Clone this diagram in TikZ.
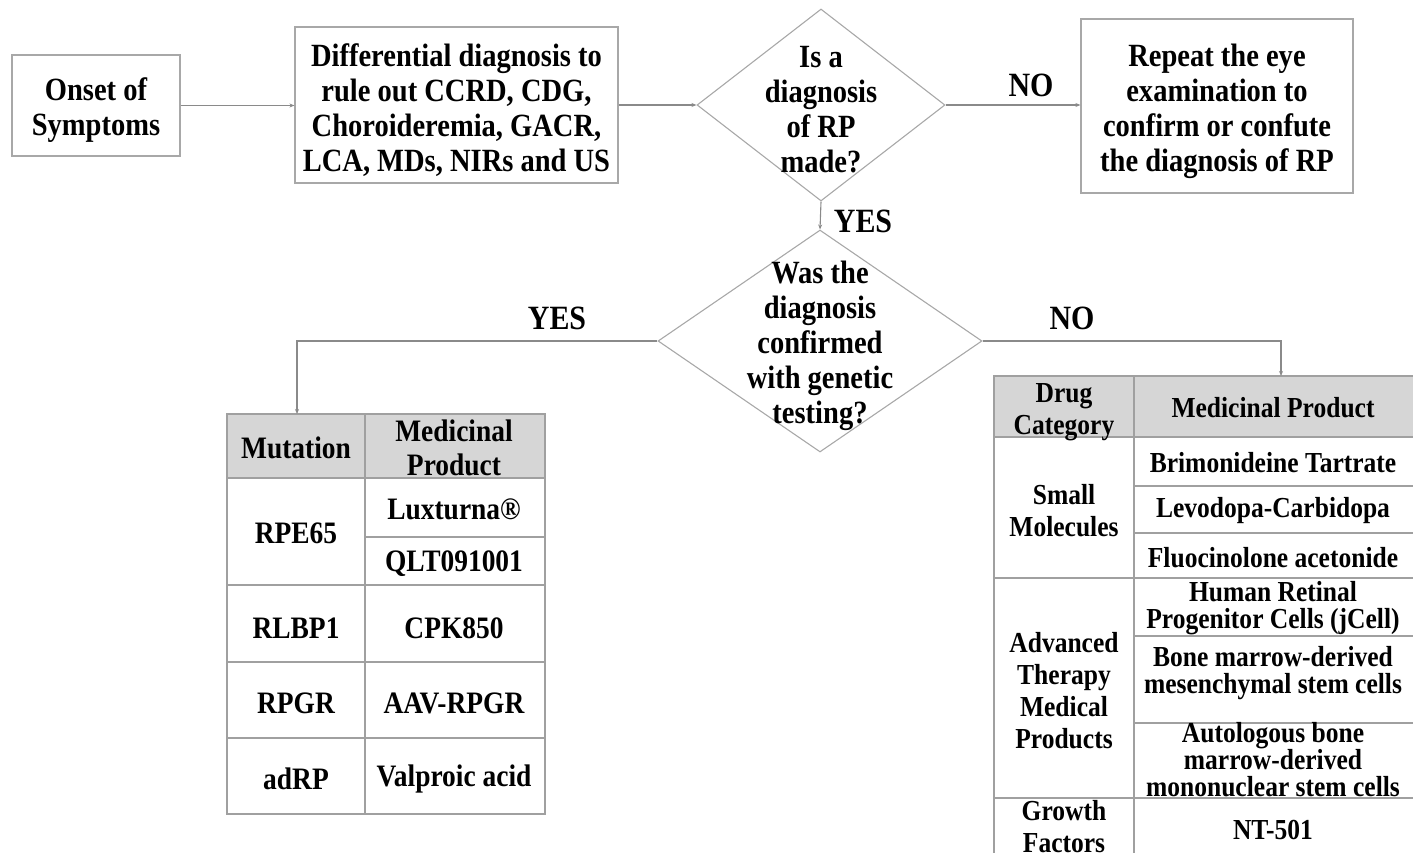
\documentclass[tikz,border=0pt]{standalone}
\usepackage{fontspec}
\setmainfont{Liberation Serif}[FakeStretch=0.88]
\usetikzlibrary{shapes.geometric,arrows.meta}

\definecolor{linegray}{HTML}{8A8A8A}
\definecolor{boxgray}{HTML}{A8A8A8}
\definecolor{gridgray}{HTML}{A0A0A0}
\definecolor{hdrfill}{HTML}{D6D6D6}

\tikzset{
  every node/.style={font=\bfseries\fontsize{32.4}{35}\selectfont, text=black, inner sep=0pt, align=center},
  box/.style={draw=boxgray, line width=1.2pt},
  dia/.style={diamond, draw=boxgray, line width=1.1pt},
  link/.style={draw=linegray, line width=1.1pt, -{Stealth[length=5pt,width=4pt]}},
  lbl/.style={font=\bfseries\fontsize{34}{36}\selectfont},
  tcell/.style={font=\bfseries\fontsize{31.2}{34}\selectfont},
  rcell/.style={font=\bfseries\fontsize{29}{27}\selectfont},
  rcat/.style={font=\bfseries\fontsize{29}{32}\selectfont},
  tbl/.style={draw=gridgray, line width=1.2pt, anchor=north west},
  grid/.style={draw=gridgray, line width=1.2pt},
}

\begin{document}
\begin{tikzpicture}[x=1pt, y=-1pt]
\useasboundingbox (0,0) rectangle (1413,853);
\clip (0,0) rectangle (1413,853);

% --- top row of the flow chart ---
\node[box, minimum width=168pt, minimum height=101pt] (onset) at (96,105.5) {};
\node (onsett) at (96,110) {Onset of\\Symptoms};
\node[box, minimum width=323pt, minimum height=156pt] (diff) at (456.5,105) {};
\node (difft) at (456.5,110)
  {Differential diagnosis to\\rule out CCRD, CDG,\\Choroideremia, GACR,\\LCA, MDs, NIRs and US};
\node[dia, minimum width=248pt, minimum height=192pt] (q1) at (821,105) {};
\node (q1t) at (821,110) {Is a\\diagnosis\\of RP\\made?};
\node[box, minimum width=272pt, minimum height=174pt] (rep) at (1217,106) {};
\node (rept) at (1217,111)
  {Repeat the eye\\examination to\\confirm or confute\\the diagnosis of RP};

% --- second decision ---
\node[dia, minimum width=324pt, minimum height=222pt] (q2) at (820,341) {};
\node (q2t) at (820,346) {Was the\\diagnosis\\confirmed\\with genetic\\testing?};

% --- branch labels ---
\node[lbl] (no1) at (1031,85) {NO};
\node[lbl] (yes1) at (863,221) {YES};
\node[lbl] (yes2) at (557,318) {YES};
\node[lbl] (no2) at (1072,318) {NO};

% --- left table: mutation-specific products ---
\node[tbl, minimum width=317pt, minimum height=399pt] (lt) at (227,414) {};
\fill[hdrfill] (227,414) rectangle (544,478);
\draw[grid] (lt.north west) rectangle (lt.south east);
\draw[grid] (365,414) -- (365,813);
\draw[grid] (227,478) -- (544,478);
\draw[grid] (365,537) -- (544,537);
\draw[grid] (227,585) -- (544,585);
\draw[grid] (227,662) -- (544,662);
\draw[grid] (227,738) -- (544,738);
\coordinate (ltin) at (297,414);

\node[tcell] (mut) at (296,448) {Mutation};
\node[tcell] (mp1) at (454,448) {Medicinal\\Product};
\node[tcell] (rpe) at (296,533) {RPE65};
\node[tcell] (lux) at (454,509) {Luxturna®};
\node[tcell] (qlt) at (454,564) {QLT091001};
\node[tcell] (rlb) at (296,628) {RLBP1};
\node[tcell] (cpk) at (454,628) {CPK850};
\node[tcell] (rpg) at (296,703) {RPGR};
\node[tcell] (aav) at (454,703) {AAV-RPGR};
\node[tcell] (adrp) at (296,779) {adRP};
\node[tcell] (val) at (454,779) {Valproic acid};

% --- right table: products by drug category ---
\node[tbl, minimum width=420pt, minimum height=494pt] (rt) at (994,376) {};
\fill[hdrfill] (994,376) rectangle (1414,437);
\draw[grid] (rt.north west) rectangle (rt.south east);
\draw[grid] (1134,376) -- (1134,870);
\draw[grid] (994,437) -- (1414,437);
\draw[grid] (1134,486) -- (1414,486);
\draw[grid] (1134,533) -- (1414,533);
\draw[grid] (994,578) -- (1414,578);
\draw[grid] (1134,636) -- (1414,636);
\draw[grid] (1134,723) -- (1414,723);
\draw[grid] (994,798) -- (1414,798);
\coordinate (rtin) at (1281,376);

\node[rcat] (drug) at (1064,412) {Drug\\Category};
\node[rcell] (mp2) at (1273,408) {Medicinal Product};
\node[rcat] (sm) at (1064,511) {Small\\Molecules};
\node[rcell] (bri) at (1273,463) {Brimonideine Tartrate};
\node[rcell] (lev) at (1273,511) {Levodopa-Carbidopa};
\node[rcell] (flu) at (1273,558) {Fluocinolone acetonide};
\node[rcat] (atmp) at (1064,691) {Advanced\\Therapy\\Medical\\Products};
\node[rcell] (hrp) at (1273,608) {Human Retinal\\Progenitor Cells (jCell)};
\node[rcell] (bmd) at (1273,673) {Bone marrow-derived\\mesenchymal stem cells};
\node[rcell] (abm) at (1273,760) {Autologous bone\\marrow-derived\\mononuclear stem cells};
\node[rcat] (gf) at (1064,827) {Growth\\Factors};
\node[rcell] (nt) at (1273,830) {NT-501};

% --- connectors ---
\draw[link] (onset.east) -- (onset.east -| diff.west);
\draw[link] (diff.east) -- (q1.west);
\draw[link] (q1.east) -- (q1.east -| rep.west);
\draw[link] (q1.south) -- (q2.north);
\draw[link] (q2.west) -| (ltin);
\draw[link] (q2.east) -| (rtin);
\end{tikzpicture}
\end{document}
